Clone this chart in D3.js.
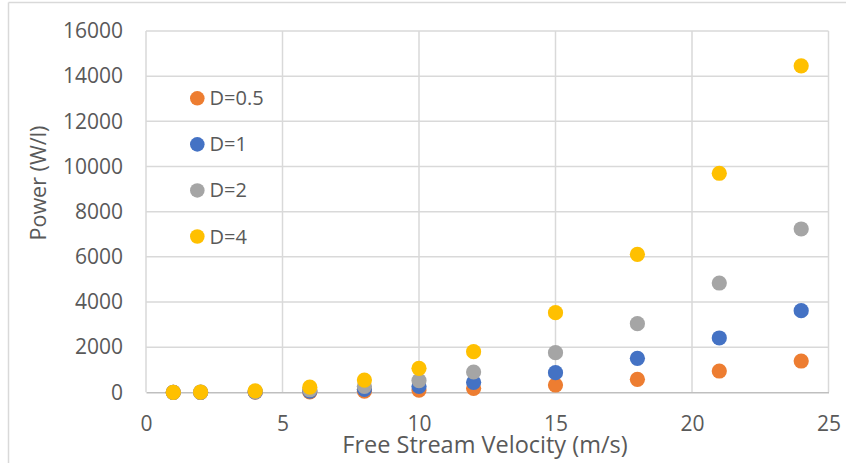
<!DOCTYPE html>
<html>
<head>
<meta charset="utf-8">
<script src="https://cdn.jsdelivr.net/npm/d3@7/dist/d3.min.js"></script>
<style>
  html, body { margin: 0; padding: 0; background: #fff; }
  svg { display: block; }
  text { font-family: "Open Sans", "Noto Sans", sans-serif; fill: #595959; }
</style>
</head>
<body>
<svg id="chart" width="846" height="463"></svg>
<script>
// ---- data ----
const velocities = [1, 2, 4, 6, 8, 10, 12, 15, 18, 21, 24];
const seriesNames = ["D=0.5", "D=1", "D=2", "D=4"];
const seriesColors = ["#ED7D31", "#4472C4", "#A5A5A5", "#FFC000"];
const powerD05 = [0.1, 1, 6, 22, 52, 100, 175, 323, 576, 943, 1386];
const powerD1  = [0.3, 2, 17, 56, 133, 260, 443, 868, 1506, 2405, 3614];
const powerD2  = [0.5, 4, 33, 112, 265, 520, 899, 1754, 3038, 4840, 7232];
const powerD4  = [1, 8, 65, 225, 540, 1060, 1798, 3525, 6112, 9700, 14460];
const xTicks = [0, 5, 10, 15, 20, 25];
const yTicks = [0, 2000, 4000, 6000, 8000, 10000, 12000, 14000, 16000];
const xTitle = "Free Stream Velocity (m/s)";
const yTitle = "Power (W/l)";

const seriesValues = [powerD05, powerD1, powerD2, powerD4];

const svg = d3.select("#chart");

// outer chart border (top and left visible)
svg.append("line").attr("x1", 8.5).attr("x2", 846).attr("y1", 2.5).attr("y2", 2.5)
  .attr("stroke", "#d9d9d9").attr("stroke-width", 1.5);
svg.append("line").attr("x1", 8.5).attr("x2", 8.5).attr("y1", 2.5).attr("y2", 463)
  .attr("stroke", "#d9d9d9").attr("stroke-width", 1.5);

const plot = { left: 146, right: 828.5, top: 31, bottom: 392.3 };

const x = d3.scaleLinear().domain([0, 25]).range([plot.left, plot.right]);
const y = d3.scaleLinear().domain([0, 16000]).range([plot.bottom, plot.top]);

// gridlines
const grid = svg.append("g");
grid.selectAll("line.h").data(yTicks.filter(d => d > 0)).enter().append("line")
  .attr("x1", plot.left).attr("x2", plot.right)
  .attr("y1", d => y(d)).attr("y2", d => y(d))
  .attr("stroke", "#d9d9d9").attr("stroke-width", 1.5);
grid.selectAll("line.v").data(xTicks).enter().append("line")
  .attr("x1", d => x(d)).attr("x2", d => x(d))
  .attr("y1", plot.top).attr("y2", plot.bottom)
  .attr("stroke", "#d9d9d9").attr("stroke-width", 1.5);

// x axis
const xAxis = svg.append("g").attr("transform", `translate(0,${plot.bottom})`)
  .call(d3.axisBottom(x).tickValues(xTicks).tickFormat(d3.format("d")).tickSize(0).tickPadding(24));
xAxis.select(".domain").attr("stroke", "#bfbfbf").attr("stroke-width", 1.5);
xAxis.selectAll("text").style("font-size", "21px").attr("fill", "#595959")
  .style("font-family", "'Open Sans', sans-serif");

// y axis
const yAxis = svg.append("g").attr("transform", `translate(${plot.left},0)`)
  .call(d3.axisLeft(y).tickValues(yTicks).tickFormat(d3.format("d")).tickSize(0).tickPadding(23));
yAxis.select(".domain").remove();
yAxis.selectAll("text").style("font-size", "21px").attr("fill", "#595959")
  .style("font-family", "'Open Sans', sans-serif");

// axis titles
svg.append("text").attr("x", 485).attr("y", 453)
  .attr("text-anchor", "middle").style("font-size", "23.5px").text(xTitle);
svg.append("text").attr("transform", "translate(46,183) rotate(-90)")
  .attr("text-anchor", "middle").style("font-size", "21.5px").text(yTitle);

// points
seriesValues.forEach((vals, i) => {
  svg.append("g").selectAll("circle").data(vals).enter().append("circle")
    .attr("cx", (d, j) => x(velocities[j]))
    .attr("cy", d => y(d))
    .attr("r", 7.6)
    .attr("fill", seriesColors[i]);
});

// legend
const legend = svg.append("g");
const legendRows = seriesNames.map((n, i) => ({ name: n, color: seriesColors[i], i }));
const ly = d3.scalePoint().domain(d3.range(seriesNames.length)).range([98.3, 236.5]);
legend.selectAll("circle").data(legendRows).enter().append("circle")
  .attr("cx", 197.3).attr("cy", d => ly(d.i)).attr("r", 7.3).attr("fill", d => d.color);
legend.selectAll("text").data(legendRows).enter().append("text")
  .attr("x", 209.5).attr("y", d => ly(d.i)).attr("dy", "0.35em")
  .style("font-size", "20px").text(d => d.name);
</script>
</body>
</html>
